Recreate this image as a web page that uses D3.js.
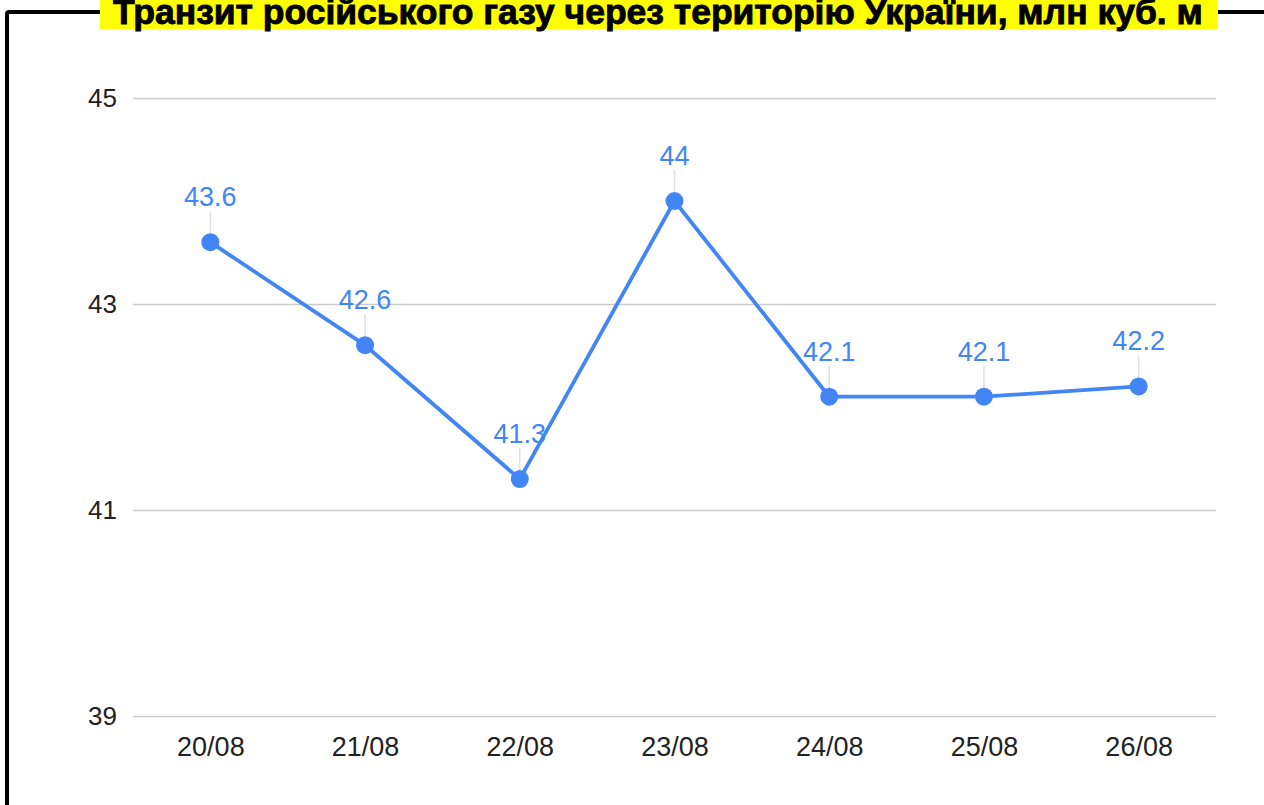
<!DOCTYPE html>
<meta charset="utf-8">
<script src="https://d3js.org/d3.v7.min.js"></script>
<style>
  body { margin: 0; background: #fff; }
</style>
<div id="chart"></div>
<script>
// data
var dates = ["20/08", "21/08", "22/08", "23/08", "24/08", "25/08", "26/08"];
var volumes = [43.6, 42.6, 41.3, 44, 42.1, 42.1, 42.2];
var yTicks = [39, 41, 43, 45];
var title = "Транзит російського газу через територію України, млн куб. м";

var W = 1264, H = 805;
var blue = "#4285f4";
var font = "'Liberation Sans', Arial, sans-serif";

var svg = d3.select("#chart").append("svg")
    .attr("width", W)
    .attr("height", H);

// frame round the chart (open at right and bottom)
svg.append("path")
    .attr("d", "M7,805 V14 Q7,12 9,12 H" + (W + 10))
    .attr("fill", "none")
    .attr("stroke", "#000")
    .attr("stroke-width", 4);

var x = d3.scalePoint()
    .domain(dates)
    .range([133, 1216])
    .padding(0.5);

var y = d3.scaleLinear()
    .domain([39, 45])
    .range([716, 98]);

// gridlines + y labels
var yAxis = svg.append("g")
    .attr("transform", "translate(133,0)")
    .call(d3.axisLeft(y).tickValues(yTicks).tickFormat(d3.format("d"))
        .tickSize(-1083).tickPadding(16));
yAxis.select(".domain").remove();
yAxis.selectAll("line").attr("stroke", "#cccccc").attr("stroke-width", 1.5);
yAxis.selectAll("text")
    .attr("fill", "#222")
    .attr("font-family", font)
    .attr("font-size", 26);

// x labels
var xAxis = svg.append("g")
    .attr("transform", "translate(0,716)")
    .call(d3.axisBottom(x).tickSize(0).tickPadding(21));
xAxis.select(".domain").remove();
xAxis.selectAll("text")
    .attr("fill", "#222")
    .attr("font-family", font)
    .attr("font-size", 27);

var pts = dates.map(function (d, i) { return { date: d, value: volumes[i] }; });

// leader lines from labels to points
svg.selectAll(".leader")
    .data(pts)
    .enter().append("line")
    .attr("class", "leader")
    .attr("x1", function (d) { return x(d.date); })
    .attr("x2", function (d) { return x(d.date); })
    .attr("y1", function (d) { return y(d.value) - 31; })
    .attr("y2", function (d) { return y(d.value) - 8; })
    .attr("stroke", "#e0e0e0")
    .attr("stroke-width", 1.5);

var line = d3.line()
    .x(function (d) { return x(d.date); })
    .y(function (d) { return y(d.value); });

svg.append("path")
    .datum(pts)
    .attr("d", line)
    .attr("fill", "none")
    .attr("stroke", blue)
    .attr("stroke-width", 3.8)
    .attr("stroke-linejoin", "round");

svg.selectAll(".dot")
    .data(pts)
    .enter().append("circle")
    .attr("class", "dot")
    .attr("cx", function (d) { return x(d.date); })
    .attr("cy", function (d) { return y(d.value); })
    .attr("r", 9)
    .attr("fill", blue);

svg.selectAll(".val")
    .data(pts)
    .enter().append("text")
    .attr("class", "val")
    .attr("x", function (d) { return x(d.date); })
    .attr("y", function (d) { return y(d.value) - 36; })
    .attr("text-anchor", "middle")
    .attr("fill", blue)
    .attr("font-family", font)
    .attr("font-size", 27)
    .text(function (d) { return d.value; });

// title on yellow band, cut at the top edge
var tg = svg.append("g");
tg.append("rect")
    .attr("x", 100).attr("y", 0)
    .attr("width", 1118).attr("height", 29)
    .attr("fill", "#ffff00");
var tt = tg.append("text")
    .attr("x", 113)
    .attr("y", 24)
    .attr("font-family", font)
    .attr("font-weight", "bold")
    .attr("font-size", 32)
    .attr("fill", "#000")
    .attr("stroke", "#000")
    .attr("stroke-width", 0.9)
    .text(title);
// fit text into the band width seen in the reference
var tw = tt.node().getComputedTextLength();
tt.attr("font-size", 32 * 1090 / tw);
</script>
